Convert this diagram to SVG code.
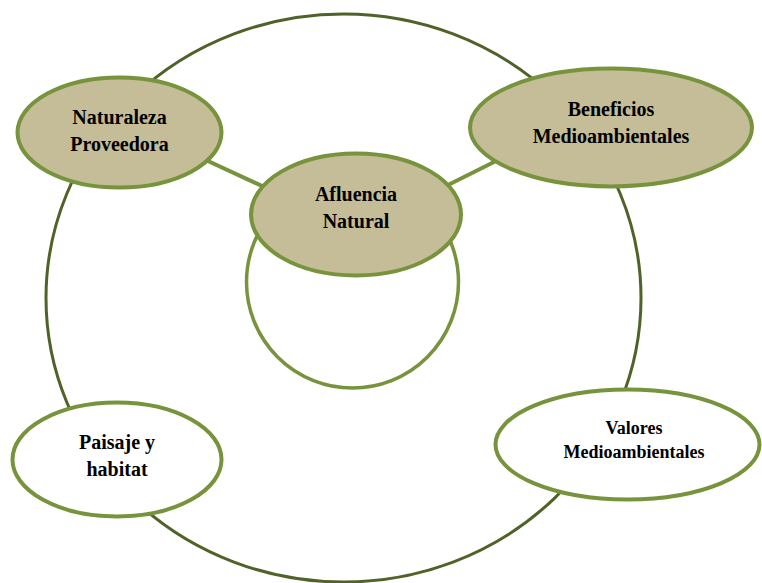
<svg xmlns="http://www.w3.org/2000/svg" width="762" height="583" viewBox="0 0 762 583">
  <style>
    .ring { fill: none; stroke: #4F6228; stroke-width: 3; }
    .inner { fill: none; stroke: #77933C; stroke-width: 3.5; }
    .link { stroke: #77933C; stroke-width: 4; fill: none; }
    .node-dark { fill: #C4BD97; stroke: #77933C; stroke-width: 4; }
    .node-light { fill: #FFFFFF; stroke: #77933C; stroke-width: 4; }
    .label { font-family: "Liberation Serif", "Times New Roman", serif; font-weight: bold; font-size: 20px; fill: #000; text-anchor: middle; }
    .small { font-size: 18px; }
  </style>
  <rect width="762" height="583" fill="#FFFFFF"/>

  <!-- outer ring and inner circle -->
  <ellipse class="ring" cx="343.5" cy="298" rx="297.5" ry="284"/>
  <circle class="inner" cx="352.5" cy="282" r="106"/>

  <!-- connectors -->
  <g id="connectors">
    <line class="link" x1="195" y1="155" x2="275" y2="192"/>
    <line class="link" x1="440" y1="189" x2="508" y2="155"/>
  </g>

  <g id="naturaleza">
    <ellipse class="node-dark" cx="119.5" cy="132.5" rx="102" ry="55"/>
    <text class="label" x="119.5" y="124">Naturaleza</text>
    <text class="label" x="119.5" y="151">Proveedora</text>
  </g>

  <g id="beneficios">
    <ellipse class="node-dark" cx="611" cy="127.5" rx="141" ry="59"/>
    <text class="label" x="611" y="116">Beneficios</text>
    <text class="label" x="611" y="143">Medioambientales</text>
  </g>

  <g id="afluencia">
    <ellipse class="node-dark" cx="356" cy="214.5" rx="105" ry="61"/>
    <text class="label" x="356" y="201">Afluencia</text>
    <text class="label" x="356" y="228">Natural</text>
  </g>

  <g id="paisaje">
    <ellipse class="node-light" cx="117" cy="459.5" rx="104.5" ry="57"/>
    <text class="label" x="117" y="449">Paisaje y</text>
    <text class="label" x="117" y="476">habitat</text>
  </g>

  <g id="valores">
    <ellipse class="node-light" cx="627.5" cy="444.5" rx="132" ry="55"/>
    <text class="label small" x="634" y="434">Valores</text>
    <text class="label small" x="634" y="458">Medioambientales</text>
  </g>
</svg>
